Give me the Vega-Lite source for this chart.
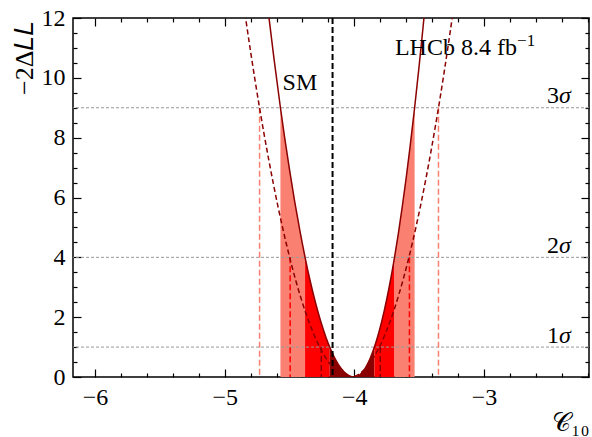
{
  "$schema": "https://vega.github.io/schema/vega-lite/v6.json",
  "width": 516,
  "height": 359,
  "autosize": "none",
  "padding": {"left": 73, "top": 18, "right": 3, "bottom": 60},
  "background": "white",
  "config": {
    "view": {"stroke": "black", "strokeWidth": 1.5},
    "font": "Liberation Serif",
    "text": {"font": "Liberation Serif", "fontSize": 24, "color": "black"}
  },
  "datasets": {
    "fill": [
      {"x": -4.57, "y": 9.0, "band": "3σ left"},
      {"x": -4.54, "y": 8.08, "band": "3σ left"},
      {"x": -4.50, "y": 6.93, "band": "3σ left"},
      {"x": -4.46, "y": 5.86, "band": "3σ left"},
      {"x": -4.42, "y": 4.89, "band": "3σ left"},
      {"x": -4.38, "y": 4.0, "band": "3σ left"},
      {"x": -4.38, "y": 4.0, "band": "2σ left"},
      {"x": -4.34, "y": 3.20, "band": "2σ left"},
      {"x": -4.30, "y": 2.49, "band": "2σ left"},
      {"x": -4.26, "y": 1.87, "band": "2σ left"},
      {"x": -4.22, "y": 1.34, "band": "2σ left"},
      {"x": -4.19, "y": 1.0, "band": "2σ left"},
      {"x": -4.19, "y": 1.0, "band": "1σ"},
      {"x": -4.16, "y": 0.709, "band": "1σ"},
      {"x": -4.12, "y": 0.399, "band": "1σ"},
      {"x": -4.08, "y": 0.177, "band": "1σ"},
      {"x": -4.04, "y": 0.044, "band": "1σ"},
      {"x": -4.00, "y": 0.0, "band": "1σ"},
      {"x": -3.96, "y": 0.067, "band": "1σ"},
      {"x": -3.92, "y": 0.266, "band": "1σ"},
      {"x": -3.88, "y": 0.599, "band": "1σ"},
      {"x": -3.845, "y": 1.0, "band": "1σ"},
      {"x": -3.845, "y": 1.0, "band": "2σ right"},
      {"x": -3.81, "y": 1.503, "band": "2σ right"},
      {"x": -3.77, "y": 2.202, "band": "2σ right"},
      {"x": -3.73, "y": 3.034, "band": "2σ right"},
      {"x": -3.69, "y": 4.0, "band": "2σ right"},
      {"x": -3.69, "y": 4.0, "band": "3σ right"},
      {"x": -3.66, "y": 4.81, "band": "3σ right"},
      {"x": -3.63, "y": 5.70, "band": "3σ right"},
      {"x": -3.60, "y": 6.66, "band": "3σ right"},
      {"x": -3.57, "y": 7.70, "band": "3σ right"},
      {"x": -3.535, "y": 9.0, "band": "3σ right"}
    ],
    "solid": [
      {"x": -4.70, "y": 13.57}, {"x": -4.66, "y": 12.07}, {"x": -4.62, "y": 10.65},
      {"x": -4.57, "y": 9.0}, {"x": -4.54, "y": 8.08}, {"x": -4.50, "y": 6.93},
      {"x": -4.46, "y": 5.86}, {"x": -4.42, "y": 4.89}, {"x": -4.38, "y": 4.0},
      {"x": -4.34, "y": 3.20}, {"x": -4.30, "y": 2.49}, {"x": -4.26, "y": 1.87},
      {"x": -4.22, "y": 1.34}, {"x": -4.19, "y": 1.0}, {"x": -4.16, "y": 0.709},
      {"x": -4.12, "y": 0.399}, {"x": -4.08, "y": 0.177}, {"x": -4.04, "y": 0.044},
      {"x": -4.00, "y": 0.0}, {"x": -3.96, "y": 0.067}, {"x": -3.92, "y": 0.266},
      {"x": -3.88, "y": 0.599}, {"x": -3.845, "y": 1.0}, {"x": -3.81, "y": 1.503},
      {"x": -3.77, "y": 2.202}, {"x": -3.73, "y": 3.034}, {"x": -3.69, "y": 4.0},
      {"x": -3.66, "y": 4.81}, {"x": -3.63, "y": 5.70}, {"x": -3.60, "y": 6.66},
      {"x": -3.57, "y": 7.70}, {"x": -3.535, "y": 9.0}, {"x": -3.50, "y": 10.41},
      {"x": -3.47, "y": 11.69}, {"x": -3.44, "y": 13.05}
    ],
    "dashed": [
      {"x": -4.87, "y": 12.95}, {"x": -4.80, "y": 10.87}, {"x": -4.73, "y": 8.97},
      {"x": -4.66, "y": 7.26}, {"x": -4.59, "y": 5.72}, {"x": -4.52, "y": 4.37},
      {"x": -4.45, "y": 3.20}, {"x": -4.38, "y": 2.21}, {"x": -4.31, "y": 1.405},
      {"x": -4.24, "y": 0.781}, {"x": -4.17, "y": 0.339}, {"x": -4.10, "y": 0.0785},
      {"x": -4.035, "y": 0.0}, {"x": -3.97, "y": 0.0813}, {"x": -3.90, "y": 0.351},
      {"x": -3.83, "y": 0.808}, {"x": -3.76, "y": 1.455}, {"x": -3.69, "y": 2.29},
      {"x": -3.62, "y": 3.313}, {"x": -3.55, "y": 4.525}, {"x": -3.48, "y": 5.925},
      {"x": -3.41, "y": 7.514}, {"x": -3.34, "y": 9.29}, {"x": -3.27, "y": 11.26},
      {"x": -3.20, "y": 13.41}
    ],
    "vlines": [
      {"x": -4.731, "level": 9, "sigma": "3σ"},
      {"x": -3.351, "level": 9, "sigma": "3σ"},
      {"x": -4.495, "level": 4, "sigma": "2σ"},
      {"x": -3.575, "level": 4, "sigma": "2σ"},
      {"x": -4.255, "level": 1, "sigma": "1σ"},
      {"x": -3.800, "level": 1, "sigma": "1σ"}
    ],
    "hlines": [
      {"level": 1, "num": "1"},
      {"level": 4, "num": "2"},
      {"level": 9, "num": "3"}
    ],
    "sm": [{"x": -4.168, "label": "SM", "ty": 9.59, "tx": -4.42}],
    "lhcb": [{"x": -3.687, "y": 10.76, "text": "LHCb 8.4 fb"}],
    "lhcbsup": [{"x": -2.745, "y": 11.06, "text": "−1"}]
  },
  "resolve": {
    "axis": {"x": "independent", "y": "independent"},
    "scale": {"color": "independent"}
  },
  "layer": [
    {
      "data": {"name": "fill"},
      "mark": {"type": "area", "clip": true, "interpolate": "monotone", "opacity": 1},
      "encoding": {
        "x": {
          "field": "x", "type": "quantitative",
          "scale": {"domain": [-6.17, -2.19], "nice": false, "zero": false},
          "axis": {
            "orient": "bottom",
            "values": [-6, -5.8, -5.6, -5.4, -5.2, -5, -4.8, -4.6, -4.4, -4.2, -4, -3.8, -3.6, -3.4, -3.2, -3, -2.8, -2.6, -2.4, -2.2],
            "labelExpr": "abs(datum.value - round(datum.value)) < 0.001 ? format(datum.value, 'd') : ''",
            "tickSize": {"condition": {"test": "abs(datum.value - round(datum.value)) < 0.001", "value": -8}, "value": -4},
            "tickColor": "black", "tickWidth": 1.2,
            "domain": false, "grid": false,
            "labelPadding": 16, "labelFlush": false, "labelOverlap": false,
            "labelFont": "Liberation Serif", "labelFontSize": 24, "labelColor": "black",
            "title": "𝒞₁₀",
            "titleFont": "Liberation Serif", "titleFontSize": 26, "titleFontWeight": "normal", "titleColor": "black",
            "titleAnchor": "end", "titleAlign": "right", "titleBaseline": "alphabetic",
            "titleX": 516, "titleY": 53
          }
        },
        "y": {
          "field": "y", "type": "quantitative", "stack": null,
          "scale": {"domain": [0, 12], "nice": false},
          "axis": {
            "orient": "left",
            "values": [0, 0.5, 1, 1.5, 2, 2.5, 3, 3.5, 4, 4.5, 5, 5.5, 6, 6.5, 7, 7.5, 8, 8.5, 9, 9.5, 10, 10.5, 11, 11.5, 12],
            "labelExpr": "datum.value % 2 == 0 ? format(datum.value, 'd') : ''",
            "tickSize": {"condition": {"test": "datum.value % 2 == 0", "value": -8}, "value": -4},
            "tickColor": "black", "tickWidth": 1.2,
            "domain": false, "grid": false,
            "labelPadding": 16, "labelFlush": false, "labelOverlap": false,
            "labelFont": "Liberation Serif", "labelFontSize": 24, "labelColor": "black",
            "title": "−2Δ𝐿𝐿",
            "titleFont": "Liberation Serif", "titleFontSize": 26, "titleFontWeight": "normal", "titleColor": "black",
            "titleAngle": -90, "titleAlign": "right", "titleBaseline": "alphabetic",
            "titleX": -41, "titleY": 2
          }
        },
        "color": {
          "field": "band", "type": "nominal",
          "scale": {"domain": ["3σ left", "2σ left", "1σ", "2σ right", "3σ right"], "range": ["#fa8072", "#ff0000", "#8b0000", "#ff0000", "#fa8072"]},
          "legend": null
        }
      }
    },
    {
      "data": {"name": "hlines"},
      "mark": {"type": "rule", "color": "#999999", "strokeWidth": 1, "strokeDash": [3, 2]},
      "encoding": {
        "y": {"field": "level", "type": "quantitative", "scale": {"domain": [0, 12], "nice": false}, "axis": null}
      }
    },
    {
      "data": {"name": "vlines"},
      "mark": {"type": "rule", "strokeWidth": 1.5, "strokeDash": [6, 3]},
      "encoding": {
        "x": {"field": "x", "type": "quantitative", "scale": {"domain": [-6.17, -2.19], "nice": false, "zero": false}, "axis": null},
        "y": {"field": "level", "type": "quantitative", "scale": {"domain": [0, 12], "nice": false}, "axis": null},
        "y2": {"datum": 0},
        "color": {
          "field": "sigma", "type": "nominal",
          "scale": {"domain": ["1σ", "2σ", "3σ"], "range": ["#8b0000", "#ff0000", "#fa8072"]},
          "legend": null
        }
      }
    },
    {
      "data": {"name": "dashed"},
      "mark": {"type": "line", "clip": true, "interpolate": "monotone", "color": "#8b0000", "strokeWidth": 1.5, "strokeDash": [5, 3]},
      "encoding": {
        "x": {"field": "x", "type": "quantitative", "scale": {"domain": [-6.17, -2.19], "nice": false, "zero": false}, "axis": null},
        "y": {"field": "y", "type": "quantitative", "scale": {"domain": [0, 12], "nice": false}, "axis": null}
      }
    },
    {
      "data": {"name": "solid"},
      "mark": {"type": "line", "clip": true, "interpolate": "monotone", "color": "#8b0000", "strokeWidth": 1.5},
      "encoding": {
        "x": {
          "field": "x", "type": "quantitative",
          "scale": {"domain": [-6.17, -2.19], "nice": false, "zero": false},
          "axis": {
            "orient": "top",
            "values": [-6, -5.8, -5.6, -5.4, -5.2, -5, -4.8, -4.6, -4.4, -4.2, -4, -3.8, -3.6, -3.4, -3.2, -3, -2.8, -2.6, -2.4, -2.2],
            "labels": false, "title": null,
            "tickSize": {"condition": {"test": "abs(datum.value - round(datum.value)) < 0.001", "value": -8}, "value": -4},
            "tickColor": "black", "tickWidth": 1.2,
            "domain": false, "grid": false
          }
        },
        "y": {
          "field": "y", "type": "quantitative",
          "scale": {"domain": [0, 12], "nice": false},
          "axis": {
            "orient": "right",
            "values": [0, 0.5, 1, 1.5, 2, 2.5, 3, 3.5, 4, 4.5, 5, 5.5, 6, 6.5, 7, 7.5, 8, 8.5, 9, 9.5, 10, 10.5, 11, 11.5, 12],
            "labels": false, "title": null,
            "tickSize": {"condition": {"test": "datum.value % 2 == 0", "value": -8}, "value": -4},
            "tickColor": "black", "tickWidth": 1.2,
            "domain": false, "grid": false
          }
        }
      }
    },
    {
      "data": {"name": "sm"},
      "mark": {"type": "rule", "color": "black", "strokeWidth": 2, "strokeDash": [6, 3]},
      "encoding": {
        "x": {"field": "x", "type": "quantitative", "scale": {"domain": [-6.17, -2.19], "nice": false, "zero": false}, "axis": null}
      }
    },
    {
      "data": {"name": "sm"},
      "mark": {"type": "text", "align": "center", "baseline": "alphabetic", "fontSize": 24},
      "encoding": {
        "x": {"field": "tx", "type": "quantitative", "scale": {"domain": [-6.17, -2.19], "nice": false, "zero": false}, "axis": null},
        "y": {"field": "ty", "type": "quantitative", "scale": {"domain": [0, 12], "nice": false}, "axis": null},
        "text": {"field": "label"}
      }
    },
    {
      "data": {"name": "lhcb"},
      "mark": {"type": "text", "align": "left", "baseline": "alphabetic", "fontSize": 24},
      "encoding": {
        "x": {"field": "x", "type": "quantitative", "scale": {"domain": [-6.17, -2.19], "nice": false, "zero": false}, "axis": null},
        "y": {"field": "y", "type": "quantitative", "scale": {"domain": [0, 12], "nice": false}, "axis": null},
        "text": {"field": "text"}
      }
    },
    {
      "data": {"name": "lhcbsup"},
      "mark": {"type": "text", "align": "left", "baseline": "alphabetic", "fontSize": 17},
      "encoding": {
        "x": {"field": "x", "type": "quantitative", "scale": {"domain": [-6.17, -2.19], "nice": false, "zero": false}, "axis": null},
        "y": {"field": "y", "type": "quantitative", "scale": {"domain": [0, 12], "nice": false}, "axis": null},
        "text": {"field": "text"}
      }
    },
    {
      "data": {"name": "hlines"},
      "transform": [{"calculate": "datum.level + 0.15", "as": "ty"}],
      "mark": {"type": "text", "align": "right", "baseline": "alphabetic", "fontSize": 24},
      "encoding": {
        "x": {"datum": -2.421, "type": "quantitative", "scale": {"domain": [-6.17, -2.19], "nice": false, "zero": false}, "axis": null},
        "y": {"field": "ty", "type": "quantitative", "scale": {"domain": [0, 12], "nice": false}, "axis": null},
        "text": {"field": "num"}
      }
    },
    {
      "data": {"name": "hlines"},
      "transform": [{"calculate": "datum.level + 0.15", "as": "ty"}],
      "mark": {"type": "text", "align": "left", "baseline": "alphabetic", "fontSize": 24, "fontStyle": "italic"},
      "encoding": {
        "x": {"datum": -2.421, "type": "quantitative", "scale": {"domain": [-6.17, -2.19], "nice": false, "zero": false}, "axis": null},
        "y": {"field": "ty", "type": "quantitative", "scale": {"domain": [0, 12], "nice": false}, "axis": null},
        "text": {"value": "σ"}
      }
    }
  ]
}
